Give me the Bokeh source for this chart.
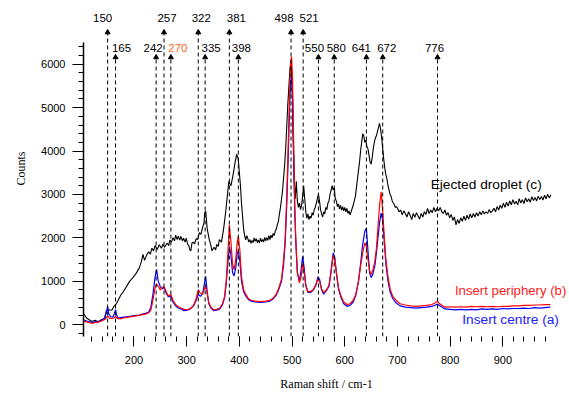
from bokeh.plotting import figure
from bokeh.models import Range1d, SingleIntervalTicker, ColumnDataSource
from bokeh.core.properties import value
from bokeh.embed import file_html
from bokeh.resources import INLINE

# ---------------- data ----------------
ejected_x = [104, 110, 115, 120, 126, 132, 138, 144, 148, 152, 158, 162, 166, 170, 175, 180, 186, 192, 198,
             204, 210, 214, 217, 220, 224, 228, 231, 234, 237, 240, 244, 248, 252, 255, 258, 263, 266, 268, 271,
             274, 277, 279, 282, 284, 287, 289, 292, 294, 297, 299, 302, 304, 306, 308, 310, 312, 315, 318,
             321, 324, 327, 330, 333, 334, 336, 339, 343, 346, 348, 352, 355, 357, 360, 362, 366, 370, 374,
             377, 380, 384, 388, 392, 395, 398,
             400, 402, 404, 406, 408, 410, 412, 414, 416, 418, 420, 422, 424, 426, 428, 430, 432, 434, 436,
             438, 440, 442, 444, 446, 448, 450, 452, 454, 456, 458, 460, 462, 464, 466, 468, 470, 472, 474,
             476, 478, 480, 482, 484, 486, 488, 490, 492, 494, 496, 498, 500, 502, 504, 506, 508, 510, 512,
             514, 516, 518, 520, 522, 524, 526, 528, 530, 532, 534, 536, 538, 540, 542, 544, 546, 548, 550,
             552, 554, 556, 558, 560, 562, 564, 566, 568, 570, 572, 574, 576, 578, 580, 582, 584, 586, 588,
             590, 592, 594, 596, 598, 600, 602, 604, 606, 608, 610, 612, 614, 616, 618, 620, 622, 624, 626,
             628, 630, 632, 634, 636, 638, 640, 642, 644, 646, 648, 650, 652, 654, 656, 658, 660, 662, 664,
             666, 668, 670, 672, 674, 676, 678, 680, 682, 684, 686, 688, 690, 692, 694, 696, 698,
             700, 703, 706, 709, 712, 715, 718, 721, 724, 727, 730, 733, 736, 739, 742, 745, 748, 751, 754,
             757, 760, 763, 766, 769, 772, 775, 778, 781, 784, 787, 790, 793, 796, 799, 802, 805, 808, 811,
             814, 817, 820, 823, 826, 829, 832, 835, 838, 841, 844, 847, 850, 853, 856, 859, 862, 865, 868,
             871, 874, 877, 880, 883, 886, 889, 892, 895, 898, 901, 904, 907, 910, 913, 916, 919, 922, 925,
             928, 931, 934, 937, 940, 943, 946, 949, 952, 955, 958, 961, 964, 967, 970, 973, 976, 979, 982,
             985, 988, 991]
ejected_y = [260, 150, 110, 70, 100, 60, 110, 140, 330, 340, 330, 420, 470, 560, 680, 760, 880, 1000, 1080,
             1180, 1300, 1450, 1620, 1480, 1600, 1680, 1620, 1760, 1700, 1820, 1730, 1840, 1760, 1850, 1780, 1880, 1820, 1950, 1900,
             2000, 1930, 2060, 1960, 2040, 1950, 2030, 1930, 1990, 1900, 1990, 1850, 1820, 1720, 1700, 1880, 1900, 1860, 1980,
             1960, 2120, 2080, 2230, 2350, 2560, 2620, 2200, 1950, 1820, 1700, 1780, 1720, 1850, 1800, 1960, 1900, 2200, 2600,
             2950, 3300, 3200, 3450, 3750, 3930, 3800,
             3500, 3200, 2800, 2500, 2200, 2050, 1950, 2050, 1980, 1900, 1960, 1870, 1940, 1890, 2000, 1920, 1980, 1890, 1950,
             1880, 1990, 1910, 1960, 1900, 2010, 1930, 2000, 1940, 2050, 1960, 2060, 2000, 2100, 2050, 2150, 2200, 2300, 2380,
             2550, 2700, 2900, 3100, 3400, 3700, 4100, 4600, 5100, 5500, 5900, 6080, 5600, 4300, 3300, 2900, 3300, 2850, 2700,
             2800, 2650, 2750, 2950, 3200, 2900, 2600, 2450, 2550, 2420, 2500, 2450, 2580, 2520, 2650, 2700, 2800, 2900, 3000,
             2850, 2650, 2550, 2480, 2600, 2550, 2700, 2650, 2800, 2850, 3000, 3100, 3200, 3100, 3150, 2900, 2850, 2720, 2780,
             2660, 2750, 2640, 2720, 2620, 2700, 2600, 2680, 2560, 2620, 2530, 2600, 2680, 2750, 2850, 2950, 3150, 3350, 3550,
             3750, 4000, 4200, 4400, 4350, 4200, 4250, 4100, 4050, 3900, 3750, 3700, 3850, 4050, 4200, 4300, 4350, 4450, 4550,
             4640, 4500, 4300, 4050, 3800, 3600, 3450, 3350, 3200, 3100, 3000, 2950, 2850, 2800, 2760, 2700, 2720,
             2680, 2600, 2640, 2530, 2620, 2560, 2480, 2600, 2520, 2420, 2560, 2470, 2580, 2500, 2430, 2560, 2480, 2600, 2540,
             2680, 2560, 2640, 2580, 2700, 2600, 2680, 2620, 2700, 2600, 2560, 2640, 2520, 2580, 2460, 2540, 2400, 2480, 2300,
             2420, 2330, 2460, 2380, 2500, 2400, 2520, 2430, 2550, 2460, 2560, 2480, 2580, 2500, 2600, 2530, 2620, 2550, 2600,
             2560, 2650, 2580, 2620, 2680, 2600, 2720, 2640, 2750, 2680, 2800, 2700, 2820, 2730, 2850, 2760, 2880, 2780, 2840,
             2760, 2900, 2800, 2880, 2790, 2920, 2830, 2900, 2820, 2950, 2860, 2930, 2850, 2960, 2880, 2950, 2870, 2980, 2900,
             3000, 2920, 2990]

periphery_x = [104, 110, 116, 122, 128, 134, 140, 145, 150, 154, 158, 162, 165, 168, 174, 180, 186, 192, 198,
               204, 210, 216, 222, 228, 232, 236, 240, 243, 246, 250, 254, 257, 261, 265, 270, 274, 279, 284,
               289, 295, 301, 307, 313, 318, 322, 326, 330, 333, 336, 339, 342, 346, 351, 357, 363, 368, 372,
               375, 378, 381, 384, 387, 390, 393, 396, 398, 401, 404, 408, 412, 417, 422, 430, 440, 450, 458,
               465, 470, 475, 480, 484, 487, 490, 493, 495, 497, 499, 501, 503, 505, 507, 510, 514, 517, 520,
               523, 526, 530, 535, 540, 545, 549, 552, 556, 560, 565, 570, 574, 578, 581, 584, 588, 593, 598,
               604, 610, 616, 621, 626, 630, 634, 638, 641, 644, 647, 650, 653, 657, 660, 663, 666, 669, 672,
               675, 678, 682, 686, 691, 697, 705, 715, 725, 735, 745, 755, 765, 770, 776, 782, 790, 800, 810,
               820, 830, 840, 850, 860, 870, 880, 890, 900, 910, 920, 930, 940, 950, 960, 970, 980, 990]
periphery_y = [80, 60, 40, 30, 50, 60, 90, 120, 200, 140, 140, 150, 190, 140, 130, 150, 160, 175, 190,
               200, 210, 230, 240, 270, 330, 560, 850, 930, 880, 800, 860, 870, 760, 660, 690, 560, 460, 410,
               380, 350, 340, 370, 440, 600, 800, 720, 700, 800, 880, 700, 500, 400, 340, 350, 380, 480, 650,
               1000, 1600, 2300, 1900, 1400, 1260, 1500, 1900, 2030, 1700, 1100, 800, 700, 600, 560, 540, 530, 540, 560,
               620, 700, 850, 1050, 1500, 2000, 3000, 4300, 5200, 6000, 6180, 5600, 4200, 2800, 2000, 1200, 960, 1100, 1400,
               1200, 900, 760, 760, 800, 920, 1050, 1000, 820, 730, 800, 900, 1200, 1600, 1500, 1200, 850, 650, 520,
               460, 480, 560, 700, 1000, 1350, 1650, 1880, 1800, 1500, 1250, 1150, 1250, 1450, 1750, 2250, 2750, 3060, 2600,
               2000, 1500, 1100, 820, 650, 560, 480, 450, 430, 420, 430, 440, 460, 490, 530, 460, 400, 410, 400,
               410, 400, 420, 410, 420, 410, 420, 410, 420, 420, 430, 430, 440, 440, 450, 450, 460, 460]

centre_x = [104, 110, 116, 122, 128, 134, 140, 145, 148, 150, 152, 156, 160, 163, 165, 167, 170, 175, 180,
            186, 192, 198, 204, 210, 216, 222, 228, 232, 236, 240, 243, 246, 250, 254, 257, 261, 265, 270,
            274, 279, 284, 289, 295, 301, 307, 313, 318, 322, 326, 330, 333, 336, 339, 342, 346, 351, 357,
            363, 368, 372, 375, 378, 381, 384, 387, 390, 393, 396, 398, 401, 404, 408, 412, 417, 422, 430,
            440, 450, 458, 465, 470, 475, 480, 484, 487, 490, 493, 495, 497, 499, 501, 503, 505, 507, 510,
            514, 517, 520, 523, 526, 530, 535, 540, 545, 549, 552, 556, 560, 565, 570, 574, 578, 581, 584,
            588, 593, 598, 604, 610, 616, 621, 626, 630, 634, 638, 641, 644, 647, 650, 653, 657, 660, 663,
            666, 669, 672, 675, 678, 682, 686, 691, 697, 705, 715, 725, 735, 745, 755, 765, 770, 776, 782,
            790, 800, 810, 820, 830, 840, 850, 860, 870, 880, 890, 900, 910, 920, 930, 940, 950, 960, 970,
            980, 990]
centre_y = [110, 80, 60, 50, 70, 80, 110, 160, 300, 420, 250, 180, 170, 260, 345, 220, 150, 160, 170,
            180, 190, 200, 210, 220, 240, 260, 290, 400, 700, 1100, 1265, 1000, 870, 820, 860, 720, 640, 650,
            520, 430, 380, 360, 320, 330, 360, 430, 560, 700, 650, 700, 900, 1110, 750, 480, 380, 320, 330,
            360, 460, 620, 950, 1400, 1800, 1600, 1200, 1120, 1300, 1650, 1700, 1450, 1000, 760, 660, 580, 540, 520,
            510, 520, 540, 600, 680, 820, 1000, 1400, 1900, 2800, 4000, 4900, 5600, 5700, 5200, 3900, 2600, 1900, 1200,
            1000, 1250, 1570, 1300, 900, 740, 740, 790, 900, 1100, 1050, 800, 700, 780, 880, 1250, 1650, 1550, 1200,
            820, 620, 480, 420, 440, 520, 680, 1000, 1400, 1850, 2150, 2220, 1700, 1200, 1080, 1150, 1350, 1650, 2000,
            2350, 2570, 2400, 1900, 1400, 1000, 750, 600, 500, 430, 400, 390, 380, 390, 400, 420, 440, 470, 420,
            360, 350, 340, 350, 340, 350, 340, 360, 350, 360, 350, 370, 360, 370, 370, 380, 370, 390, 380,
            390, 400]

upper_peaks = [150, 257, 322, 381, 498, 521]
lower_peaks = [165, 242, 270, 335, 398, 550, 580, 641, 672, 776]
lower_colors = ["black", "black", "#FF6A13", "black", "black", "black", "black", "black", "black", "black"]

series_names = ["Ejected droplet (c)", "Insert periphery (b)", "Insert centre (a)"]
x_title = "Raman shift / cm-1"
y_title = "Counts"

# label nudges (pixels), layout only
upper_nudge = [-5, 3, 3, 7, -7, 6]
lower_nudge = [6, -3, 7, 6, 3, -4, 2, -5, 4, -3]

# ---------------- figure ----------------
X0, X1 = 104.2, 1026.4
Y0, Y1 = -276, 7471
p = figure(width=569, height=393, output_backend="svg", toolbar_location=None,
           x_range=Range1d(X0, X1), y_range=Range1d(Y0, Y1),
           min_border_left=83, min_border_right=0, min_border_top=0, min_border_bottom=56)
p.outline_line_color = None
p.xgrid.visible = False
p.ygrid.visible = False
p.background_fill_color = "white"
p.border_fill_color = "white"

# spectra
p.line(ejected_x, ejected_y, line_color="black", line_width=1.1)
p.line(centre_x, centre_y, line_color="#0000FF", line_width=1.2)
p.line(periphery_x, periphery_y, line_color="#FF0000", line_width=1.2)

# dashed marker lines with arrow heads
TOP_TIP, LOW_TIP = 6736, 6161
TOP_LBL, LOW_LBL = 7057, 6368
for xv in upper_peaks:
    p.line([xv, xv], [Y0, TOP_TIP], line_color="black", line_width=1, line_dash="4 3")
for xv in lower_peaks:
    p.line([xv, xv], [Y0, LOW_TIP], line_color="black", line_width=1, line_dash="4 3")
p.scatter(upper_peaks, [TOP_TIP] * len(upper_peaks), marker="triangle", size=5,
          fill_color="black", line_color="black")
p.scatter(lower_peaks, [LOW_TIP] * len(lower_peaks), marker="triangle", size=5,
          fill_color="black", line_color="black")

src_up = ColumnDataSource(dict(x=upper_peaks, y=[TOP_LBL] * len(upper_peaks),
                               t=[str(v) for v in upper_peaks], dx=upper_nudge))
src_lo = ColumnDataSource(dict(x=lower_peaks, y=[LOW_LBL] * len(lower_peaks),
                               t=[str(v) for v in lower_peaks], c=lower_colors, dx=lower_nudge))
p.text(x="x", y="y", text="t", source=src_up, text_align="center", text_baseline="middle",
       x_offset="dx", text_font=value("Liberation Sans"), text_font_size="11.5px", text_color="black")
p.text(x="x", y="y", text="t", source=src_lo, text_align="center", text_baseline="middle",
       x_offset="dx", text_font=value("Liberation Sans"), text_font_size="11.5px", text_color="c")

# series labels
p.text(x=[763], y=[3218], text=[series_names[0]], text_align="left", text_baseline="middle",
       text_font=value("Liberation Sans"), text_font_size="13.7px", text_color="black")
p.text(x=[809], y=[782], text=[series_names[1]], text_align="left", text_baseline="middle",
       text_font=value("Liberation Sans"), text_font_size="13.2px", text_color="#FF2020")
p.text(x=[823], y=[115], text=[series_names[2]], text_align="left", text_baseline="middle",
       text_font=value("Liberation Sans"), text_font_size="13.7px", text_color="#2020FF")

# axes
xa = p.xaxis[0]
xa.ticker = SingleIntervalTicker(interval=100, num_minor_ticks=5)
xa.bounds = (110, 990)
xa.axis_line_color = None
xa.major_tick_out = 10
xa.major_tick_in = 0
xa.minor_tick_out = 5
xa.minor_tick_in = 0
xa.major_tick_line_color = "black"
xa.minor_tick_line_color = "black"
xa.major_label_standoff = 9
xa.major_label_text_font = "Liberation Sans"
xa.major_label_text_font_size = "11px"
xa.major_label_text_color = "black"
xa.axis_label = x_title
xa.axis_label_standoff = 10
xa.axis_label_text_font = "Liberation Serif"
xa.axis_label_text_font_style = "normal"
xa.axis_label_text_font_size = "12px"
xa.axis_label_text_color = "black"

ya = p.yaxis[0]
ya.ticker = SingleIntervalTicker(interval=1000, num_minor_ticks=5)
ya.bounds = (Y0, 6500)
ya.axis_line_color = "black"
ya.axis_line_width = 1.5
ya.major_tick_out = 11
ya.major_tick_in = 0
ya.minor_tick_out = 5
ya.minor_tick_in = 0
ya.major_tick_line_color = "black"
ya.minor_tick_line_color = "black"
ya.major_label_standoff = 7
ya.major_label_text_font = "Liberation Sans"
ya.major_label_text_font_size = "11px"
ya.major_label_text_color = "black"
ya.axis_label = y_title
ya.axis_label_standoff = 10
ya.axis_label_text_align = "right"
ya.axis_label_text_font = "Liberation Serif"
ya.axis_label_text_font_style = "normal"
ya.axis_label_text_font_size = "12px"
ya.axis_label_text_color = "black"

open("out.html", "w").write(file_html(p, INLINE))
